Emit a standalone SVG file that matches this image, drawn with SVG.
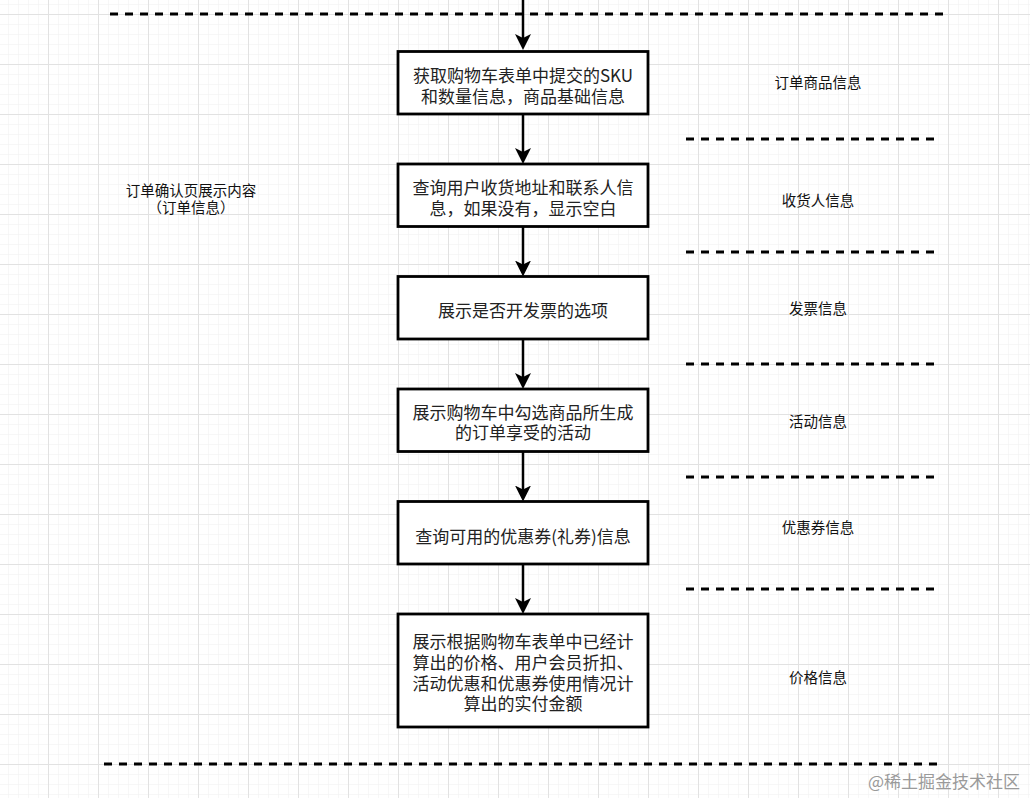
<svg xmlns="http://www.w3.org/2000/svg" width="1030" height="798" viewBox="0 0 1030 798">
<style>
.box{fill:#ffffff;stroke:#000000;stroke-width:2.8}
.bt{font-family:"Noto Sans CJK SC","Microsoft YaHei",sans-serif;font-size:17px;fill:#222222;text-anchor:middle}
.lb{font-family:"Noto Sans CJK SC","Microsoft YaHei",sans-serif;font-size:14.5px;fill:#111111;text-anchor:middle}
.dash{stroke:#000000;stroke-width:3;stroke-dasharray:8 7;fill:none}
.arr{stroke:#000000;stroke-width:2.5;fill:none;marker-end:url(#ah)}
.wm{font-family:"Noto Sans CJK SC",sans-serif;font-size:17px;fill:#9a9a9a;text-anchor:middle}
</style>
<defs>
<pattern id="minor" x="8" y="4" width="10" height="10" patternUnits="userSpaceOnUse">
<path d="M0,0 V10 M0,0 H10" stroke="#f0f0f0" stroke-width="1" fill="none"/>
</pattern>
<pattern id="major" x="48" y="14" width="50" height="50" patternUnits="userSpaceOnUse">
<path d="M0.5,0 V50 M0,0.5 H50" stroke="#e2e2e2" stroke-width="1" fill="none"/>
</pattern>
<marker id="ah" markerUnits="userSpaceOnUse" markerWidth="16" markerHeight="16" viewBox="0 0 16 16" refX="6" refY="8" orient="auto">
<path d="M0,0 L16,8 L0,16 L4,8 Z" fill="#000000"/>
</marker>
</defs>
<rect width="1030" height="798" fill="#ffffff"/>
<rect width="1030" height="798" fill="url(#minor)"/>
<rect width="1030" height="798" fill="url(#major)"/>

<g id="separators">
<line class="dash" x1="110" y1="14" x2="945" y2="14"/>
<line class="dash" x1="686" y1="139" x2="935" y2="139"/>
<line class="dash" x1="686" y1="252" x2="935" y2="252"/>
<line class="dash" x1="686" y1="364" x2="935" y2="364"/>
<line class="dash" x1="686" y1="477" x2="935" y2="477"/>
<line class="dash" x1="686" y1="589" x2="935" y2="589"/>
<line class="dash" x1="104" y1="764" x2="938" y2="764"/>
</g>

<g id="connectors">
<line class="arr" x1="523" y1="0" x2="523" y2="40"/>
<line class="arr" x1="523" y1="114" x2="523" y2="154"/>
<line class="arr" x1="523" y1="226.5" x2="523" y2="266.5"/>
<line class="arr" x1="523" y1="339" x2="523" y2="379"/>
<line class="arr" x1="523" y1="451.5" x2="523" y2="491.5"/>
<line class="arr" x1="523" y1="564" x2="523" y2="604"/>
</g>

<g id="node1">
<rect class="box" x="398" y="51.5" width="250" height="62.5"/>
<text class="bt" x="523" y="81.5">获取购物车表单中提交的SKU</text>
<text class="bt" x="523" y="103">和数量信息，商品基础信息</text>
</g>
<g id="node2">
<rect class="box" x="398" y="164" width="250" height="62.5"/>
<text class="bt" x="523" y="193.5">查询用户收货地址和联系人信</text>
<text class="bt" x="523" y="215">息，如果没有，显示空白</text>
</g>
<g id="node3">
<rect class="box" x="398" y="276.5" width="250" height="62.5"/>
<text class="bt" x="523" y="317">展示是否开发票的选项</text>
</g>
<g id="node4">
<rect class="box" x="398" y="389" width="250" height="62.5"/>
<text class="bt" x="523" y="419">展示购物车中勾选商品所生成</text>
<text class="bt" x="523" y="439">的订单享受的活动</text>
</g>
<g id="node5">
<rect class="box" x="398" y="501.5" width="250" height="62.5"/>
<text class="bt" x="523" y="543">查询可用的优惠券(礼券)信息</text>
</g>
<g id="node6">
<rect class="box" x="398" y="614" width="250" height="113"/>
<text class="bt" x="523" y="648">展示根据购物车表单中已经计</text>
<text class="bt" x="523" y="668.5">算出的价格、用户会员折扣、</text>
<text class="bt" x="523" y="689.5">活动优惠和优惠券使用情况计</text>
<text class="bt" x="523" y="709.5">算出的实付金额</text>
</g>

<g id="label-left">
<text class="lb" x="191" y="195.5">订单确认页展示内容</text>
<text class="lb" x="191" y="212.5">（订单信息）</text>
</g>
<g id="label-goods"><text class="lb" x="818" y="88">订单商品信息</text></g>
<g id="label-receiver"><text class="lb" x="818" y="205.5">收货人信息</text></g>
<g id="label-invoice"><text class="lb" x="818" y="313.5">发票信息</text></g>
<g id="label-activity"><text class="lb" x="818" y="426.5">活动信息</text></g>
<g id="label-coupon"><text class="lb" x="818" y="532.5">优惠券信息</text></g>
<g id="label-price"><text class="lb" x="818" y="682.5">价格信息</text></g>

<text class="wm" x="944" y="788">@稀土掘金技术社区</text>
</svg>
